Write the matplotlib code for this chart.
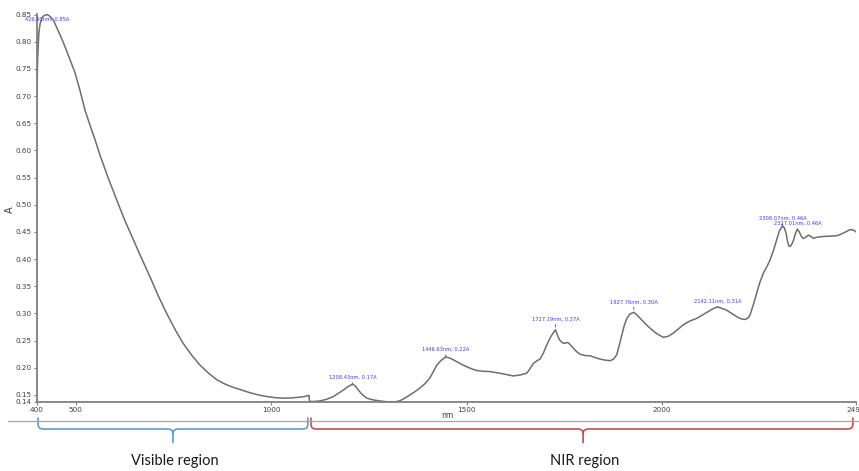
import matplotlib
matplotlib.use("Agg")
import matplotlib.pyplot as plt
from matplotlib.path import Path
from matplotlib.patches import PathPatch
from matplotlib.lines import Line2D

# ---- data ----
wavelength = [401, 403, 406, 409, 413, 419, 426.9, 434, 443, 455, 469, 483, 498, 511, 524,
              537, 550, 562, 583, 605, 626, 648, 669, 690, 711, 733, 754, 775, 797, 818,
              840, 861, 882, 903, 925, 946, 968, 989, 1010, 1031, 1052, 1074, 1085, 1095,
              1097, 1098,
              1110, 1125, 1142, 1159, 1172, 1185, 1196, 1208.4, 1216, 1223, 1234, 1245,
              1260, 1278, 1295, 1312, 1322, 1330, 1342, 1355, 1368, 1381, 1394, 1406, 1415,
              1424, 1434, 1446.6, 1460, 1475, 1488, 1500, 1513, 1526, 1543, 1560, 1573,
              1585, 1602, 1619, 1636, 1654, 1662, 1671, 1680, 1688, 1697, 1705, 1716,
              1727.2, 1733, 1738, 1745, 1751, 1756, 1762, 1768, 1773, 1781, 1790, 1803,
              1816, 1828, 1841, 1855, 1867, 1876, 1884, 1890, 1897, 1903, 1910, 1918,
              1927.8, 1936, 1944, 1956, 1969, 1986, 2003, 2016, 2029, 2041, 2054, 2071,
              2089, 2110, 2131, 2142.1, 2154, 2165, 2178, 2191, 2202, 2212, 2219, 2225,
              2233, 2242, 2250, 2259, 2268, 2276, 2285, 2293, 2300, 2308.1, 2313, 2317,
              2321, 2325, 2330, 2336, 2341, 2346, 2351, 2356, 2361, 2367, 2374, 2380,
              2387, 2395, 2404, 2421, 2438, 2447, 2455, 2464, 2472, 2480, 2485, 2491, 2496]
absorbance = [0.702, 0.770, 0.816, 0.832, 0.843, 0.848, 0.850, 0.847, 0.840, 0.821, 0.798,
              0.772, 0.744, 0.711, 0.674, 0.646, 0.619, 0.592, 0.550, 0.509, 0.471, 0.435,
              0.401, 0.368, 0.333, 0.300, 0.271, 0.245, 0.223, 0.205, 0.190, 0.178, 0.170,
              0.164, 0.159, 0.154, 0.150, 0.147, 0.145, 0.144, 0.1445, 0.146, 0.147, 0.149,
              0.149, 0.138,
              0.138, 0.139, 0.142, 0.147, 0.153, 0.159, 0.165, 0.170, 0.166, 0.159, 0.150,
              0.144, 0.141, 0.139, 0.1375, 0.137, 0.138, 0.1395, 0.144, 0.150, 0.156, 0.163,
              0.171, 0.181, 0.193, 0.205, 0.213, 0.220, 0.217, 0.211, 0.206, 0.202, 0.198,
              0.195, 0.1935, 0.193, 0.1915, 0.190, 0.1875, 0.185, 0.1865, 0.190, 0.198,
              0.208, 0.213, 0.216, 0.228, 0.242, 0.258,
              0.270, 0.259, 0.251, 0.246, 0.245, 0.2465, 0.245, 0.240, 0.236, 0.230, 0.225,
              0.2225, 0.222, 0.219, 0.216, 0.214, 0.213, 0.216, 0.224, 0.240, 0.260, 0.277,
              0.291, 0.299,
              0.302, 0.297, 0.291, 0.282, 0.273, 0.263, 0.256, 0.258, 0.264, 0.271, 0.279,
              0.286, 0.291, 0.300, 0.309, 0.312, 0.309, 0.306, 0.300, 0.294, 0.290, 0.289,
              0.291, 0.297, 0.315, 0.337, 0.357, 0.374, 0.386, 0.398, 0.416, 0.435, 0.452,
              0.461, 0.457, 0.448, 0.432, 0.423, 0.425, 0.434, 0.447, 0.455, 0.450, 0.442,
              0.438, 0.440, 0.444, 0.442, 0.438, 0.440, 0.441, 0.442, 0.4425, 0.443, 0.445,
              0.448, 0.451, 0.454, 0.454, 0.453, 0.450]

peak_x = [426.93, 1208.43, 1446.63, 1727.19, 1927.76, 2142.11, 2308.07, 2346.0]
peak_y = [0.850, 0.170, 0.220, 0.270, 0.302, 0.312, 0.461, 0.455]
peak_labels = ["426.93nm, 0.85A", "1208.43nm, 0.17A", "1446.63nm, 0.22A",
               "1727.19nm, 0.27A", "1927.76nm, 0.30A", "2142.11nm, 0.31A",
               "2308.07nm, 0.46A", "2327.01nm, 0.46A"]
label_offset = [-2, 4, 5, 8, 8, 3, 5, 3]   # pixels above peak (negative: below)

x_ticks = [400, 500, 1000, 1500, 2000, 2496]
x_tick_labels = ["400", "500", "1000", "1500", "2000", "2496"]
y_ticks = [0.137, 0.15, 0.20, 0.25, 0.30, 0.35, 0.40, 0.45, 0.50, 0.55, 0.60, 0.65,
           0.70, 0.75, 0.80, 0.85]
y_tick_labels = ["0.14", "0.15", "0.20", "0.25", "0.30", "0.35", "0.40", "0.45", "0.50",
                 "0.55", "0.60", "0.65", "0.70", "0.75", "0.80", "0.85"]

regions = ["Visible region", "NIR region"]
region_start = [404, 1102]
region_end = [1094, 2488]
region_mid = [749, 1798]
region_colors = ["#5b9bd5", "#c0504d"]

# ---- figure ----
W, H = 859, 471
fig = plt.figure(figsize=(W / 100, H / 100), dpi=100)
ax = fig.add_axes([36.5 / W, (H - 402) / H, (856 - 36.5) / W, (402 - 14) / H])

ax.plot(wavelength, absorbance, color="#6e6e6e", lw=1.1)
ax.set_xlim(400, 2496)
ax.set_ylim(0.137, 0.851)

for s in ["top", "right"]:
    ax.spines[s].set_visible(False)
for s in ["left", "bottom"]:
    ax.spines[s].set_color("#7f7f7f")
    ax.spines[s].set_linewidth(1.3)

ax.set_xticks(x_ticks)
ax.set_xticklabels(x_tick_labels)
ax.set_yticks(y_ticks)
ax.set_yticklabels(y_tick_labels)
ax.tick_params(axis="both", labelsize=5.2, colors="#7f7f7f", labelcolor="#404040",
               length=2.5, width=0.8, pad=1)

# peak annotations
for px_, py_, lab, off in zip(peak_x, peak_y, peak_labels, label_offset):
    if off > 0:
        ax.annotate("", xy=(px_, py_), xytext=(0, off * 0.72), textcoords="offset points",
                    arrowprops=dict(arrowstyle="-", color="#3b3bff", lw=0.6))
        ax.annotate(lab, xy=(px_, py_), xytext=(0, off * 0.72), textcoords="offset points",
                    ha="center", va="bottom", fontsize=3.7, color="#3b3bff")
    else:
        ax.annotate(lab, xy=(px_, py_), xytext=(0, off * 0.72), textcoords="offset points",
                    ha="center", va="top", fontsize=3.7, color="#3b3bff")

# axis labels
ax.text(1450, -0.036, "nm", transform=ax.get_xaxis_transform(), ha="center", va="center",
        fontsize=5.5, color="#404040")
fig.text(10 / W, 1 - 210 / H, "A", rotation=90, ha="center", va="center", fontsize=7,
         color="#404040")

# horizontal divider line
fig.add_artist(Line2D([8 / W, 1.0], [(H - 421) / H, (H - 421) / H], color="#a6a6a6", lw=0.9))

# braces
tr = ax.get_xaxis_transform()
y_top, y_mid, y_tip = -0.040, -0.0696, -0.106
r = 13
dy = 0.012
for x0, x1, xm, col, name in zip(region_start, region_end, region_mid, region_colors, regions):
    verts = [(x0, y_top), (x0, y_mid + dy), (x0, y_mid), (x0 + r, y_mid),
             (xm - r, y_mid), (xm, y_mid), (xm, y_mid - dy), (xm, y_tip),
             (xm, y_mid - dy), (xm, y_mid), (xm + r, y_mid),
             (x1 - r, y_mid), (x1, y_mid), (x1, y_mid + dy), (x1, y_top)]
    codes = [Path.MOVETO, Path.LINETO, Path.CURVE3, Path.CURVE3,
             Path.LINETO, Path.CURVE3, Path.CURVE3, Path.LINETO,
             Path.MOVETO, Path.CURVE3, Path.CURVE3,
             Path.LINETO, Path.CURVE3, Path.CURVE3, Path.LINETO]
    patch = PathPatch(Path(verts, codes), transform=tr, fill=False, edgecolor=col, lw=1.2,
                      clip_on=False)
    ax.add_patch(patch)
    ax.text(xm + 5, -0.152, name, transform=tr, ha="center", va="center", fontsize=10.5,
            family=["Lato", "DejaVu Sans"], color="#1a1a1a")

fig.savefig("out.png", dpi=100)
